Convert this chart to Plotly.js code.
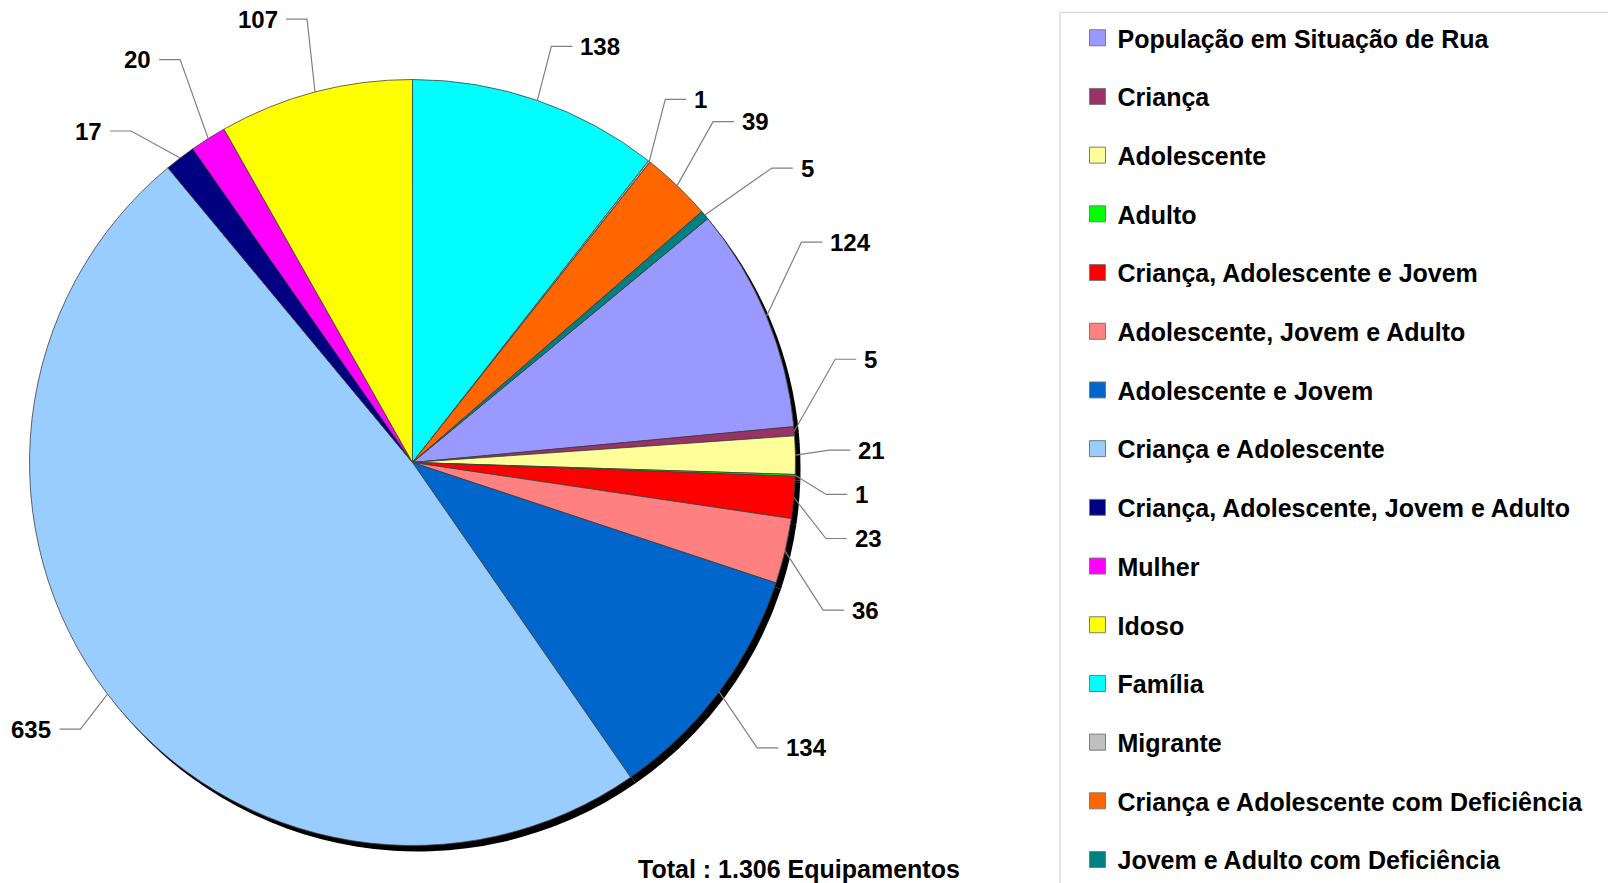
<!DOCTYPE html>
<html><head><meta charset="utf-8">
<script src="https://cdn.plot.ly/plotly-3.0.1.min.js"></script>
<style>html,body{margin:0;padding:0;background:#fff;overflow:hidden}#chart{width:1608px;height:883px}</style>
</head><body><div id="chart"></div>
<script>
const categories = [
  "População em Situação de Rua",
  "Criança",
  "Adolescente",
  "Adulto",
  "Criança, Adolescente e Jovem",
  "Adolescente, Jovem e Adulto",
  "Adolescente e Jovem",
  "Criança e Adolescente",
  "Criança, Adolescente, Jovem e Adulto",
  "Mulher",
  "Idoso",
  "Família",
  "Migrante",
  "Criança e Adolescente com Deficiência",
  "Jovem e Adulto com Deficiência"
];
const values = [124, 5, 21, 1, 23, 36, 134, 635, 17, 20, 107, 138, 1, 39, 5];
const colors = ["#9999FF","#993366","#FFFF99","#00FF00","#FF0000","#FF8080","#0066CC",
                "#99CCFF","#000080","#FF00FF","#FFFF00","#00FFFF","#C0C0C0","#FF6600","#008080"];
const totalLabel = "Total : {t} Equipamentos";

// label leader-line elbows, px offsets from each slice's outer mid point (layout only)
const labelElbows = [[35,-74],[41,-72],[34,-5],[31,19],[32,41],[38,59],[38,56],
                     [-27,35],[-49,-27],[-28,-79],[-8,-73],[14,-54],[16,-62],[36,-64],[67,-47]];

const W = 1608, H = 883;
const cx = 412.5, cy = 462.5, R = 383;
const rotation = 50.45;
const shadowDx = 5, shadowDy = 6;
const fontFam = "Liberation Sans, Arial, sans-serif";

const total = values.reduce((a, b) => a + b, 0);
const px = x => x / W, py = y => 1 - y / H;
const dom = (dx, dy) => ({x: [px(cx - R + dx), px(cx + R + dx)], y: [py(cy + R + dy), py(cy - R + dy)]});

const shadow = {
  type: "pie", values: values, labels: categories, sort: false, direction: "clockwise",
  rotation: rotation, domain: dom(shadowDx, shadowDy), textinfo: "none", hoverinfo: "skip",
  marker: {colors: values.map(() => "#000"), line: {width: 0}}, showlegend: false
};
const pie = {
  type: "pie", values: values, labels: categories, sort: false, direction: "clockwise",
  rotation: rotation, domain: dom(0, 0), textinfo: "none", hoverinfo: "label+value",
  marker: {colors: colors, line: {color: "#404040", width: 0.8}}, showlegend: false
};
const legendTraces = categories.map((c, i) => ({
  type: "scatter", mode: "markers", x: [null], y: [null], name: c, legendgroup: "g" + i,
  marker: {symbol: "square", size: 16, color: colors[i], line: {color: "#7a7a7a", width: 1}},
  hoverinfo: "skip"
}));

const shapes = [];
const annotations = [];
let cum = 0;
values.forEach((v, i) => {
  const mid = (rotation + 360 * (cum + v / 2) / total) * Math.PI / 180;
  cum += v;
  const ex = cx + R * Math.sin(mid), ey = cy - R * Math.cos(mid);
  const [dx, dy] = labelElbows[i];
  const bx = ex + dx, by = ey + dy;
  const dir = dx >= 0 ? 1 : -1;
  const tx = bx + dir * 21;
  shapes.push({type: "path", xref: "paper", yref: "paper",
    path: `M${px(ex)},${py(ey)} L${px(bx)},${py(by)} L${px(tx)},${py(by)}`,
    line: {color: "#808080", width: 1.2}});
  annotations.push({xref: "paper", yref: "paper", x: px(tx + dir * 6), y: py(by),
    xanchor: dir > 0 ? "left" : "right", yanchor: "middle", showarrow: false,
    text: String(v), font: {family: fontFam, size: 24, color: "#000", weight: 700}});
});
const totalStr = total.toLocaleString("de-DE");
annotations.push({xref: "paper", yref: "paper", x: px(798.5), y: py(868.5), xanchor: "center",
  yanchor: "middle", showarrow: false, text: totalLabel.replace("{t}", totalStr),
  font: {family: fontFam, size: 25, color: "#000", weight: 700}});
// legend frame
shapes.push({type: "rect", xref: "paper", yref: "paper", x0: px(1060), x1: px(1640),
  y0: py(12.3), y1: py(920), line: {color: "#d9d9d9", width: 1.3}, fillcolor: "rgba(0,0,0,0)", layer: "below"});

const layout = {
  width: W, height: H, margin: {l: 0, r: 0, t: 0, b: 0},
  paper_bgcolor: "#fff", plot_bgcolor: "#fff",
  xaxis: {visible: false}, yaxis: {visible: false},
  showlegend: true,
  legend: {x: px(1077.5), xanchor: "left", y: py(19.6), yanchor: "top",
    bgcolor: "rgba(0,0,0,0)", borderwidth: 0, tracegroupgap: 23.2,
    font: {family: fontFam, size: 25, color: "#000", weight: 700}},
  shapes: shapes, annotations: annotations, hovermode: "closest"
};
Plotly.newPlot("chart", [shadow, pie].concat(legendTraces), layout, {displayModeBar: false, responsive: false});
</script>
</body></html>
